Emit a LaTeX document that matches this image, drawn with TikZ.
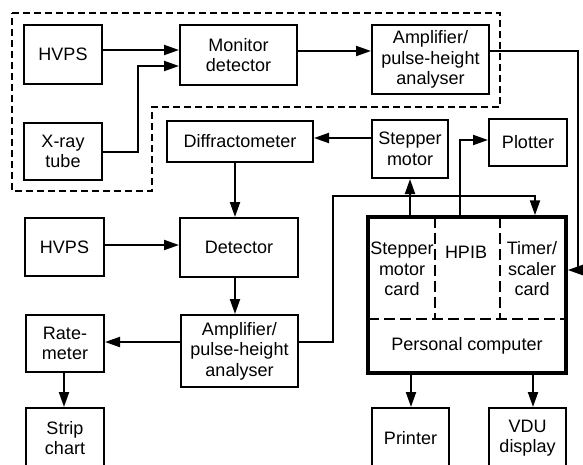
\documentclass[tikz,border=0pt]{standalone}
\usepackage{fontspec}
\setmainfont{Liberation Sans}
\usetikzlibrary{arrows.meta}
\begin{document}
\begin{tikzpicture}[x=1pt,y=-1pt,
  box/.style={draw,line width=2pt,inner sep=0pt,align=center,
    font=\fontsize{18}{20.5}\selectfont},
  arr/.style={line width=2pt,-{Triangle[length=15pt,width=10pt]}},
  dsh/.style={line width=1.3pt,dash pattern=on 7pt off 4pt},
  pcdsh/.style={line width=1.8pt,dash pattern=on 11pt off 5pt},
  lbl/.style={align=center,inner sep=0pt,font=\fontsize{18}{20.5}\selectfont}]
\clip (0,0) rectangle (583,464);
% dashed enclosure
\draw[dsh] (12,13) -- (500,13) -- (500,107) -- (152,107) -- (152,191) -- (12,191) -- cycle;
% boxes
\node[box,minimum width=78,minimum height=59] (hvpsA) at (63,54.5) {HVPS};
\node[box,minimum width=78,minimum height=57] (xray) at (63,151.5) {X-ray\\tube};
\node[box,minimum width=117,minimum height=60] (mon) at (238.5,55) {Monitor\\detector};
\node[box,minimum width=117,minimum height=69] (ampA) at (430.5,59.5) {Amplifier/\\pulse-height\\analyser};
\node[box,minimum width=146,minimum height=41] (diff) at (240,141.5) {Diffractometer};
\node[box,minimum width=76,minimum height=58] (step) at (410,149) {Stepper\\motor};
\node[box,minimum width=78,minimum height=47] (plot) at (528,142.5) {Plotter};
\node[box,minimum width=79,minimum height=58] (hvpsB) at (64.5,247) {HVPS};
\node[box,minimum width=118,minimum height=59] (det) at (239,247.5) {Detector};
\node[box,minimum width=117,minimum height=72] (ampB) at (239.5,351) {Amplifier/\\pulse-height\\analyser};
\node[box,minimum width=78,minimum height=57] (rate) at (65,343.5) {Rate-\\meter};
\node[box,minimum width=78,minimum height=60] (strip) at (65,438) {Strip\\chart};
\node[box,minimum width=77,minimum height=60] (prn) at (410.5,438) {Printer};
\node[box,minimum width=77,minimum height=60] (vdu) at (527.5,438) {VDU\\display};
% personal computer
\node[draw,line width=3.5pt,minimum width=198,minimum height=156,inner sep=0pt] (pc) at (467,295) {};
\coordinate (pcL) at (368,319);
\coordinate (pcR) at (566,319);
\draw[pcdsh] (pcL) -- (pcR);
\draw[pcdsh] (435,217) -- (435,319);
\draw[pcdsh] (500,217) -- (500,319);
\node[lbl] (smc) at (402,269) {Stepper\\motor\\card};
\node[lbl] (hpib) at (466,252) {HPIB};
\node[lbl] (tsc) at (532,269) {Timer/\\scaler\\card};
\node[lbl] (pcl) at (467,346) {Personal computer};
% connectors
\draw[arr] ([yshift=4.5]hvpsA.east) -- ([yshift=4.5]hvpsA.east -| mon.west);
\coordinate (xbend) at (138,152);
\draw[arr] (xray.east |- xbend) -- (xbend) -- (xbend |- 0,66) -- (mon.west |- 0,66);
\draw[arr] (mon.east |- 0,51) -- (ampA.west |- 0,51);
\coordinate (rt) at (578,51);
\draw[arr] (ampA.east |- rt) -- (rt) -- (rt |- 0,270) -- (pc.east |- 0,270);
\draw[arr] (step.west |- 0,138) -- (diff.east |- 0,138);
\coordinate (hp) at (460,140);
\draw[arr] (pc.north -| hp) -- (hp) -- (plot.west |- hp);
\draw[arr] (pc.north -| step.south) -- (step.south);
\coordinate (c1) at (333,342);
\coordinate (c2) at (333,196);
\coordinate (c3) at (535,196);
\draw[arr] (ampB.east |- c1) -- (c1) -- (c2) -- (c3) -- (pc.north -| c3);
\draw[arr] (diff.south -| 235,0) -- (det.north -| 235,0);
\draw[arr] (hvpsB.east |- 0,245) -- (det.west |- 0,245);
\draw[arr] (det.south -| 235,0) -- (ampB.north -| 235,0);
\draw[arr] (ampB.west |- c1) -- (rate.east |- c1);
\draw[arr] (rate.south -| 64,0) -- (strip.north -| 64,0);
\draw[arr] (pc.south -| 411,0) -- (prn.north -| 411,0);
\draw[arr] (pc.south -| 533,0) -- (vdu.north -| 533,0);
\end{tikzpicture}
\end{document}
